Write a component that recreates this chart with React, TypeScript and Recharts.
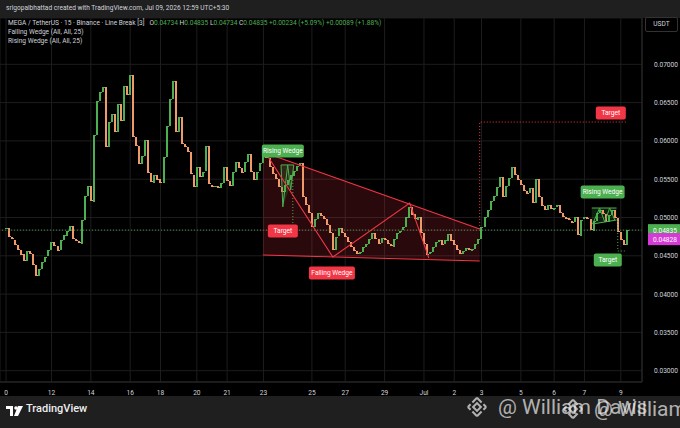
import React from 'react';
import {
  ComposedChart,
  Bar,
  Area,
  Line,
  XAxis,
  YAxis,
  CartesianGrid,
  ReferenceLine,
  ReferenceDot,
} from 'recharts';

// line break closes (MEGA/USDT, 15m, Line Break 3), one per brick
const closes = [
  0.0486, 0.0474, 0.0471, 0.0464, 0.0458, 0.0452, 0.0443, 0.0456, 0.0452, 0.0438,
  0.0424, 0.0433, 0.0442, 0.0449, 0.0457, 0.0468, 0.0463, 0.0457, 0.047, 0.0477,
  0.0483, 0.0489, 0.0472, 0.0469, 0.0466, 0.0497, 0.0528, 0.0541, 0.0521, 0.0608,
  0.0652, 0.0664, 0.067, 0.0592, 0.0625, 0.0635, 0.0612, 0.0648, 0.0626, 0.0672,
  0.066, 0.0686, 0.0605, 0.0593, 0.057, 0.058, 0.0601, 0.0558, 0.0546, 0.0556,
  0.055, 0.0545, 0.0579, 0.062, 0.0655, 0.0678, 0.0612, 0.0631, 0.0596, 0.0592,
  0.0585, 0.0556, 0.054, 0.0566, 0.0553, 0.056, 0.0593, 0.0543, 0.054, 0.0541,
  0.0538, 0.0545, 0.0566, 0.0548, 0.0542, 0.056, 0.0573, 0.0565, 0.0559, 0.0572,
  0.0583, 0.056, 0.0549, 0.056, 0.0571, 0.0588, 0.0578, 0.0566, 0.0557, 0.055,
  0.054, 0.0533, 0.0542, 0.0549, 0.0555, 0.0561, 0.0567, 0.0571, 0.0527, 0.0516,
  0.0506, 0.0488, 0.0498, 0.0506, 0.0502, 0.0498, 0.049, 0.048, 0.0458, 0.0475,
  0.0486, 0.048, 0.0475, 0.0468, 0.0461, 0.0456, 0.0452, 0.0455, 0.0462, 0.0466,
  0.0472, 0.048, 0.0472, 0.0466, 0.0473, 0.047, 0.0465, 0.0462, 0.0472, 0.048,
  0.0483, 0.0487, 0.05, 0.0514, 0.0504, 0.0497, 0.0501, 0.048, 0.0466, 0.0452,
  0.0455, 0.0462, 0.0468, 0.0471, 0.0465, 0.047, 0.0479, 0.047, 0.0464, 0.0457,
  0.0452, 0.0456, 0.046, 0.0457, 0.0459, 0.0465, 0.0472, 0.0488, 0.0501, 0.051,
  0.0522, 0.0528, 0.054, 0.0553, 0.0527, 0.0541, 0.0552, 0.0566, 0.0555, 0.0549,
  0.0543, 0.0535, 0.0531, 0.0538, 0.0519, 0.055, 0.0527, 0.0515, 0.051, 0.0516,
  0.0511, 0.0513, 0.0516, 0.0506, 0.0501, 0.0499, 0.0496, 0.0494, 0.05, 0.0476,
  0.0497, 0.05, 0.0498, 0.0483, 0.0496, 0.0506, 0.051, 0.0505, 0.0494, 0.0503,
  0.051, 0.0499, 0.0481, 0.047, 0.0464, 0.04835,
];

const timeTicks = [0, 15, 28, 41, 51, 63, 73, 85, 101, 112, 125, 138, 148, 157, 170, 181, 191, 203];
const timeLabels = ['0', '12', '14', '16', '18', '20', '21', '23', '25', '27', '29', 'Jul', '2', '3', '5', '6', '7', '9'];
const priceTicks = [0.03, 0.035, 0.04, 0.045, 0.05, 0.055, 0.06, 0.065, 0.07];
const lastPrice = 0.04835;
const prevClose = 0.04828;

// falling wedge (red)
const fwUpper = [{ x: 84.8, y: 0.05855 }, { x: 156.4, y: 0.0485 }];
const fwLower = [{ x: 84.8, y: 0.04511 }, { x: 156.4, y: 0.04432 }];
const fwZigzag = [
  { x: 85.5, y: 0.05855 },
  { x: 107.9, y: 0.04484 },
  { x: 133.3, y: 0.05189 },
  { x: 139.6, y: 0.04472 },
];
const fwBand = [{ x: 84.8, band: [0.04511, 0.05855] }, { x: 156.4, band: [0.04432, 0.0485] }];
const fwTarget = [{ x: 156.4, y: 0.0485 }, { x: 156.4, y: 0.06246 }, { x: 205, y: 0.06246 }];

// rising wedge (green), middle
const rw1Upper = [{ x: 90.8, y: 0.05686 }, { x: 95.0, y: 0.05686 }];
const rw1Zigzag = [
  { x: 90.8, y: 0.05686 },
  { x: 91.4, y: 0.05138 },
  { x: 93.0, y: 0.05686 },
  { x: 94.0, y: 0.05359 },
  { x: 95.0, y: 0.05686 },
];
const rw1Band = [{ x: 90.8, band: [0.05686, 0.05686] }, { x: 91.4, band: [0.05138, 0.05686] }, { x: 95.0, band: [0.0555, 0.05686] }];
const rw1Target = [{ x: 94.7, y: 0.0549 }, { x: 94.7, y: 0.04929 }];

// rising wedge (green), right
const rw2Upper = [{ x: 193.4, y: 0.05124 }, { x: 201.6, y: 0.05124 }];
const rw2Lower = [{ x: 193.7, y: 0.04915 }, { x: 201.6, y: 0.04967 }];
const rw2Zigzag = [
  { x: 193.7, y: 0.04915 },
  { x: 196.0, y: 0.05124 },
  { x: 197.7, y: 0.04941 },
  { x: 199.3, y: 0.05124 },
  { x: 201.0, y: 0.04967 },
];
const rw2Band = [{ x: 193.4, band: [0.04915, 0.05124] }, { x: 201.6, band: [0.04967, 0.05124] }];
const rw2Target = [{ x: 202, y: 0.04954 }, { x: 202, y: 0.04563 }, { x: 204.3, y: 0.04563 }];

const GREEN = '#4caf50';
const ORANGE = '#ef9a68';
const RED = '#f23645';
const TEXT = '#d1d4dc';

const bricks = closes.map((c, i) => {
  const o = i === 0 ? c : closes[i - 1];
  return { x: i, range: [Math.min(o, c), Math.max(o, c)], up: c >= o };
});

// thin line-break brick with a 1px joint at its close so bricks link up
function Brick(props: any) {
  const { x, y, width, height, payload } = props;
  if (x == null || y == null) return null;
  const left = Math.round(x + width / 2 - 1);
  const top = Math.round(y);
  const h = Math.max(1, Math.round(height));
  const fill = payload.up ? GREEN : ORANGE;
  const closeY = payload.up ? top : top + h - 1;
  return (
    <g shapeRendering="crispEdges">
      <rect x={left} y={top} width={2} height={h} fill={fill} />
      <rect x={left + 2} y={closeY} width={1} height={1} fill={fill} />
    </g>
  );
}

const tag = (text: string, fill: string, w: number) => (p: any) => (
  <g>
    <rect x={p.cx - w / 2} y={p.cy - 6.5} width={w} height={13} rx={2} fill={fill} />
    <text x={p.cx} y={p.cy + 2.4} textAnchor="middle" fontSize={6.6} fill="#fff" fontFamily="Roboto, sans-serif">
      {text}
    </text>
  </g>
);

function PriceTick(props: any) {
  const { x, y, payload } = props;
  const v = payload.value;
  if (v === lastPrice) {
    return (
      <g>
        <rect x={x - 6} y={y - 6} width={40} height={12} fill={GREEN} />
        <text x={x - 1} y={y + 2.5} fontSize={6.6} fill="#fff" fontFamily="Roboto, sans-serif">{lastPrice.toFixed(5)}</text>
        <rect x={x - 6} y={y + 3} width={40} height={12} fill="#d63ad6" />
        <text x={x - 1} y={y + 11.5} fontSize={6.6} fill="#fff" fontFamily="Roboto, sans-serif">{prevClose.toFixed(5)}</text>
      </g>
    );
  }
  return (
    <text x={x} y={y + 2.5} fontSize={6.6} fill={TEXT} fontFamily="Roboto, sans-serif">
      {v.toFixed(5)}
    </text>
  );
}

const lineProps = { dot: false, activeDot: false, isAnimationActive: false, dataKey: 'y', type: 'linear' as const };

export default function App() {
  return (
    <div
      style={{
        position: 'fixed',
        left: 0,
        top: 0,
        width: 680,
        height: 428,
        background: '#1f1f1f',
        overflow: 'hidden',
        fontFamily: 'Roboto, sans-serif',
        color: TEXT,
      }}
    >
      <div style={{ position: 'absolute', left: 6, top: 4, fontSize: 6.6, color: TEXT, whiteSpace: 'nowrap' }}>
        srigopalbhattad created with TradingView.com, Jul 09, 2026 12:59 UTC+5:30
      </div>
      <div style={{ position: 'absolute', left: 0, top: 18, width: 680, height: 378, background: '#000' }}>
        <ComposedChart width={680} height={378} data={bricks} margin={{ top: 0, right: 0, left: 0, bottom: 0 }}>
          <CartesianGrid stroke="#1d1d1d" strokeWidth={1} />
          <XAxis
            dataKey="x"
            type="number"
            domain={[-2, 210]}
            ticks={timeTicks}
            tickFormatter={(v: number) => timeLabels[timeTicks.indexOf(v)] ?? ''}
            height={14}
            tickLine={false}
            axisLine={{ stroke: '#2a2a2a' }}
            tick={{ fontSize: 6.6, fill: TEXT, fontFamily: 'Roboto, sans-serif' }}
            tickMargin={2}
            interval={0}
            allowDataOverflow
          />
          <YAxis
            orientation="right"
            type="number"
            domain={[0.028525, 0.076044]}
            ticks={[...priceTicks, lastPrice]}
            width={38}
            tickLine={false}
            axisLine={{ stroke: '#2a2a2a' }}
            tick={<PriceTick />}
            tickMargin={6}
            interval={0}
            allowDataOverflow
          />
          <ReferenceLine y={lastPrice} stroke={GREEN} strokeDasharray="1 2" strokeOpacity={0.8} />

          <Area data={fwBand} dataKey="band" type="linear" stroke="none" fill={RED} fillOpacity={0.17} isAnimationActive={false} activeDot={false} />
          <Area data={rw1Band} dataKey="band" type="linear" stroke="none" fill={GREEN} fillOpacity={0.18} isAnimationActive={false} activeDot={false} />
          <Area data={rw2Band} dataKey="band" type="linear" stroke="none" fill={GREEN} fillOpacity={0.18} isAnimationActive={false} activeDot={false} />

          <Bar dataKey="range" barSize={2} isAnimationActive={false} shape={<Brick />} />

          <Line data={rw1Upper} stroke={GREEN} strokeWidth={1} {...lineProps} />
          <Line data={rw1Zigzag} stroke={GREEN} strokeWidth={1} {...lineProps} />
          <Line data={rw1Target} stroke={GREEN} strokeWidth={1} strokeDasharray="1 2" {...lineProps} />
          <ReferenceDot x={91.4} y={0.05868} r={1} shape={tag('Rising Wedge', GREEN, 42)} />

          <Line data={fwUpper} stroke={RED} strokeWidth={1.1} {...lineProps} />
          <Line data={fwLower} stroke={RED} strokeWidth={1.1} {...lineProps} />
          <Line data={fwZigzag} stroke={RED} strokeWidth={1.1} {...lineProps} />
          <Line data={fwTarget} stroke={RED} strokeWidth={1} strokeDasharray="1 2" {...lineProps} />
          <ReferenceDot x={91.4} y={0.04825} r={1} shape={tag('Target', RED, 30)} />
          <ReferenceDot x={107.6} y={0.04277} r={1} shape={tag('Falling Wedge', RED, 46)} />
          <ReferenceDot x={199.7} y={0.06364} r={1} shape={tag('Target', RED, 30)} />

          <Line data={rw2Upper} stroke={GREEN} strokeWidth={1} {...lineProps} />
          <Line data={rw2Lower} stroke={GREEN} strokeWidth={1} {...lineProps} />
          <Line data={rw2Zigzag} stroke={GREEN} strokeWidth={1} {...lineProps} />
          <Line data={rw2Target} stroke={GREEN} strokeWidth={1} strokeDasharray="1 2" {...lineProps} />
          <ReferenceDot x={197.0} y={0.05333} r={1} shape={tag('Rising Wedge', GREEN, 44)} />
          <ReferenceDot x={198.7} y={0.04445} r={1} shape={tag('Target', GREEN, 28)} />
        </ComposedChart>
      </div>

      <div style={{ position: 'absolute', left: 8, top: 19, fontSize: 6.6, lineHeight: '9px', whiteSpace: 'nowrap' }}>
        <div>
          <span style={{ color: TEXT }}>MEGA / TetherUS · 15 · Binance · Line Break [3]</span>
          <span style={{ marginLeft: 5 }}>
            O<span style={{ color: GREEN }}>0.04734</span> H<span style={{ color: GREEN }}>0.04835</span> L
            <span style={{ color: GREEN }}>0.04734</span> C<span style={{ color: GREEN }}>0.04835</span>
            <span style={{ color: GREEN }}> +0.00234 (+5.09%)</span>
            <span style={{ color: GREEN }}> +0.00089 (+1.88%)</span>
          </span>
        </div>
        <div>Falling Wedge (All, All, 25)</div>
        <div>Rising Wedge (All, All, 25)</div>
      </div>

      <div
        style={{
          position: 'absolute',
          left: 645,
          top: 17,
          width: 31,
          height: 13,
          border: '1px solid #333',
          borderRadius: 2,
          fontSize: 6.6,
          lineHeight: '13px',
          textAlign: 'center',
          color: TEXT,
        }}
      >
        USDT
      </div>

      <svg style={{ position: 'absolute', left: 6, top: 405 }} width={18} height={12}>
        <rect x={0} y={1} width={7} height={3} fill="#fff" />
        <rect x={4} y={1} width={3} height={10} fill="#fff" />
        <circle cx={10} cy={3} r={1.8} fill="#fff" />
        <polygon points="12,1 17,1 12,11 8,11" fill="#fff" />
      </svg>
      <div style={{ position: 'absolute', left: 26, top: 402, fontSize: 11, fontWeight: 500, color: '#eee' }}>TradingView</div>

      {[466, 562].map((left, k) => (
        <div
          key={k}
          style={{
            position: 'absolute',
            left,
            top: 396 + k * 2,
            display: 'flex',
            alignItems: 'center',
            whiteSpace: 'nowrap',
            color: 'rgba(235,235,235,0.72)',
            fontSize: 21,
            lineHeight: '22px',
          }}
        >
          <svg width={22} height={22} viewBox="0 0 24 24">
            <g fill="none" stroke="rgba(235,235,235,0.72)" strokeWidth={2.2}>
              <rect x={9} y={9} width={6} height={6} transform="rotate(45 12 12)" />
              <path d="M12 2 L17 7 M12 2 L7 7 M12 22 L17 17 M12 22 L7 17 M2 12 L5 9 M2 12 L5 15 M22 12 L19 9 M22 12 L19 15" />
            </g>
          </svg>
          <span style={{ marginLeft: 10 }}>@ William Davis</span>
        </div>
      ))}
    </div>
  );
}
